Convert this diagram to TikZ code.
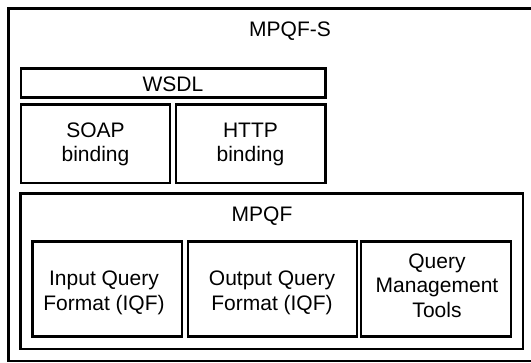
\documentclass[tikz,border=0pt]{standalone}
\usepackage{fontspec}
\setmainfont{Liberation Sans}
\begin{document}
\begin{tikzpicture}[x=1pt,y=-1pt,
  box/.style={draw=black, line width=2.1pt, fill=white, inner sep=0pt},
  lbl/.style={inner sep=0pt, align=center, font=\fontsize{21}{24.5}\selectfont}]
\useasboundingbox (0,0) rectangle (531,363);
\fill[white] (0,0) rectangle (531,363);
% outer MPQF-S box (right edge lies beyond the page)
\draw[box] (8.5,8.5) rectangle (540,360.8);
\node[lbl] (tmpqfs) at (290,31.5) {MPQF-S};
% WSDL and bindings
\draw[box] (20.7,68.5) rectangle (325.5,97.5);
\node[lbl] (twsdl) at (173,84) {WSDL};
\draw[box] (20.7,104.5) rectangle (170,183);
\node[lbl] (tsoap) at (95.5,144.5) {SOAP\\binding};
\draw[box] (175.7,104.5) rectangle (325.5,183);
\node[lbl] (thttp) at (250.5,144.5) {HTTP\\binding};
% MPQF
\draw[box] (20.5,193.5) rectangle (523.3,349);
\node[lbl] (tmpqf) at (262,216.5) {MPQF};
\draw[box] (32.5,241.5) rectangle (182.3,336.5);
\node[lbl] (tiqf) at (104,293) {Input Query\\Format (IQF)};
\draw[box] (187.7,241.5) rectangle (356.7,336.5);
\node[lbl] (toqf) at (272,293) {Output Query\\Format (IQF)};
\draw[box] (361,241.5) rectangle (511.3,336.5);
\node[lbl] (tqmt) at (437,285.5) {Query\\Management\\Tools};
\end{tikzpicture}
\end{document}
